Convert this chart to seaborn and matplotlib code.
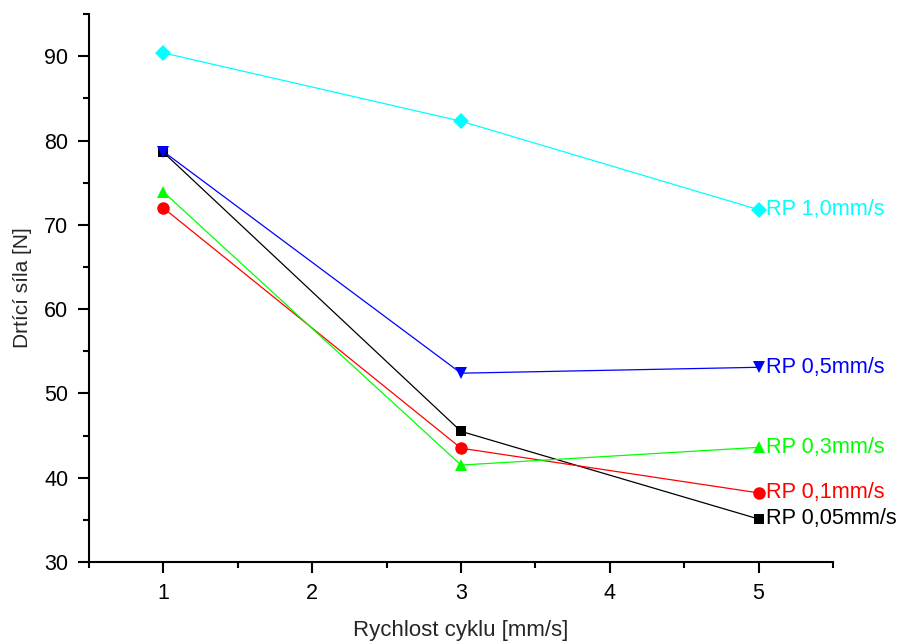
import matplotlib
matplotlib.use("Agg")
import matplotlib.pyplot as plt
from matplotlib.ticker import MultipleLocator
import seaborn as sns
import pandas as pd

# Cycle speed on the x axis
speeds = [1, 3, 5]

# Crushing force [N] for each loading rate (RP)
rp_005 = [78.6, 45.5, 35.1]
rp_01 = [72.0, 43.5, 38.2]
rp_03 = [73.9, 41.5, 43.6]
rp_05 = [78.7, 52.4, 53.1]
rp_10 = [90.4, 82.3, 71.8]

labels = ["RP 0,05mm/s", "RP 0,1mm/s", "RP 0,3mm/s", "RP 0,5mm/s", "RP 1,0mm/s"]
values = [rp_005, rp_01, rp_03, rp_05, rp_10]
colors = ["#000000", "#ff0000", "#00ff00", "#0000ff", "#00ffff"]
markers = ["s", "o", "^", "v", "D"]
sizes = [7, 9, 9, 9, 8]

sns.set_theme(style="ticks")
plt.rcParams["font.family"] = ["Liberation Sans", "DejaVu Sans"]

fig = plt.figure(figsize=(9.01, 6.43), dpi=100)
ax = fig.add_axes([0.0988, 0.126, 0.8257, 0.852])

for lab, vals, col, mk, ms in zip(labels, values, colors, markers, sizes):
    df = pd.DataFrame({"x": speeds, "y": vals})
    sns.lineplot(data=df, x="x", y="y", ax=ax, color=col, marker=mk,
                 markersize=ms, markeredgecolor=col, markeredgewidth=0,
                 linewidth=0.9)
    ax.annotate(lab, xy=(speeds[-1], vals[-1]), xytext=(5.5, 0),
                textcoords="offset points", va="center", ha="left",
                color=col, fontsize=15.6)

ax.set_xlim(0.5, 5.5)
ax.set_ylim(30, 95)
ax.xaxis.set_major_locator(MultipleLocator(1))
ax.xaxis.set_minor_locator(MultipleLocator(0.5))
ax.yaxis.set_major_locator(MultipleLocator(10))
ax.yaxis.set_minor_locator(MultipleLocator(5))
ax.set_yticks(range(30, 91, 10))

sns.despine(ax=ax)
for s in ("left", "bottom"):
    ax.spines[s].set_linewidth(1.5)
    ax.spines[s].set_color("black")
ax.tick_params(which="major", direction="out", length=8, width=1.5,
               labelsize=15.5, colors="black", pad=7)
ax.tick_params(which="minor", direction="out", length=4.5, width=1.5,
               colors="black")
ax.set_xlabel("Rychlost cyklu [mm/s]", fontsize=16, labelpad=12)
ax.set_ylabel("Drtící síla [N]", fontsize=15, labelpad=9)

fig.savefig("out.png", dpi=100)
